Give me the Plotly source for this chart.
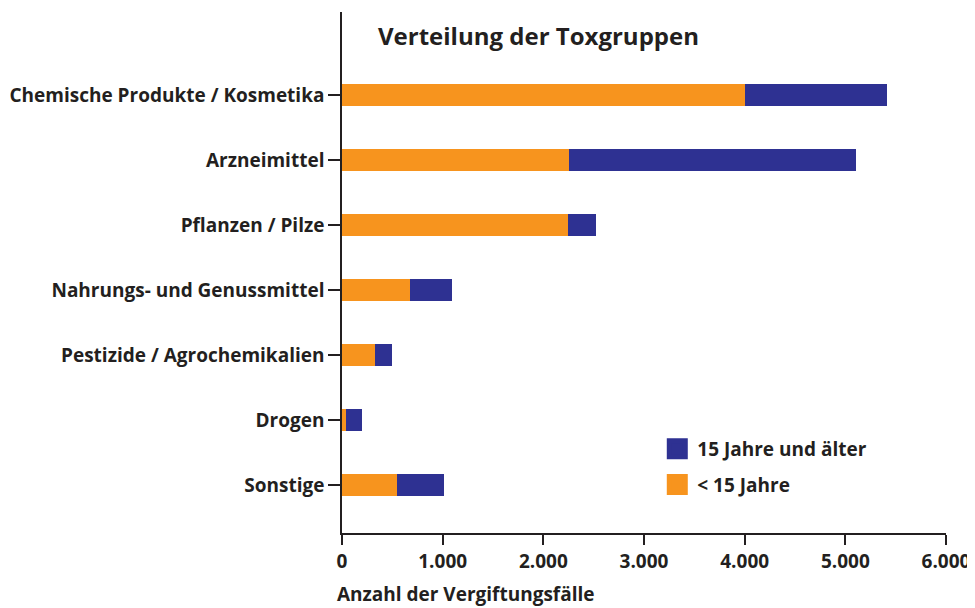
import plotly.graph_objects as go

categories = [
    "Chemische Produkte / Kosmetika",
    "Arzneimittel",
    "Pflanzen / Pilze",
    "Nahrungs- und Genussmittel",
    "Pestizide / Agrochemikalien",
    "Drogen",
    "Sonstige",
]
unter_15 = [4005, 2257, 2245, 675, 328, 40, 546]
ab_15 = [1411, 2851, 278, 418, 169, 159, 467]
series_names = ["< 15 Jahre", "15 Jahre und älter"]
x_tickvals = [0, 1000, 2000, 3000, 4000, 5000, 6000]
x_ticktext = ["0", "1.000", "2.000", "3.000", "4.000", "5.000", "6.000"]

ORANGE = "#F7941E"
BLUE = "#2E3192"
TEXT = "#231F20"
FONT = "Open Sans"

fig = go.Figure()
fig.add_trace(go.Bar(y=categories, x=unter_15, orientation="h", name=series_names[0],
                     marker=dict(color=ORANGE, line=dict(width=0)), showlegend=False))
fig.add_trace(go.Bar(y=categories, x=ab_15, orientation="h", name=series_names[1],
                     marker=dict(color=BLUE, line=dict(width=0)), showlegend=False))
# legend entries
fig.add_trace(go.Scatter(x=[None], y=[None], mode="markers", name=series_names[1],
                         legendgroup="a",
                         marker=dict(symbol="square", size=23, color=BLUE,
                                     line=dict(color=BLUE, width=5))))
fig.add_trace(go.Scatter(x=[None], y=[None], mode="markers", name=series_names[0],
                         legendgroup="b",
                         marker=dict(symbol="square", size=23, color=ORANGE,
                                     line=dict(color=ORANGE, width=5))))

fig.update_layout(
    width=967, height=600,
    margin=dict(l=334, r=29, t=4, b=75, autoexpand=False),
    plot_bgcolor="white", paper_bgcolor="white",
    barmode="stack", bargap=0.655,
    font=dict(family=FONT, size=19, color=TEXT, weight="bold"),
    showlegend=True,
    legend=dict(x=0.522, y=0.198, xanchor="left", yanchor="top", traceorder="grouped",
                font=dict(family=FONT, size=19, color=TEXT, weight="bold"),
                bgcolor="rgba(0,0,0,0)", itemsizing="trace", tracegroupgap=8),
    xaxis=dict(range=[0, 6000], tickvals=x_tickvals, ticktext=x_ticktext, automargin=False,
               showgrid=False, zeroline=False, showline=True, linecolor=TEXT, linewidth=1.5,
               ticks="outside", ticklen=10, tickcolor=TEXT, tickwidth=1.5,
               tickfont=dict(family=FONT, size=19, color=TEXT, weight="bold")),
    yaxis=dict(categoryorder="array", categoryarray=categories, range=[6.74, -1.28],
               automargin=False,
               showgrid=False, zeroline=False, showline=True, linecolor=TEXT, linewidth=1.5,
               ticks="outside", ticklen=12, tickcolor=TEXT, tickwidth=1.5,
               tickfont=dict(family=FONT, size=19, color=TEXT, weight="bold")),
    annotations=[
        dict(text="Verteilung der Toxgruppen", xref="paper", yref="paper", x=0.056, y=0.955,
             xanchor="left", yanchor="middle", showarrow=False,
             font=dict(family=FONT, size=24, color=TEXT, weight="bold")),
        dict(text="Anzahl der Vergiftungsfälle", xref="paper", yref="paper", x=0, y=-0.118,
             xanchor="left", yanchor="middle", xshift=-7, showarrow=False,
             font=dict(family=FONT, size=19, color=TEXT, weight="bold")),
    ],
)

fig.write_html("out.html")
